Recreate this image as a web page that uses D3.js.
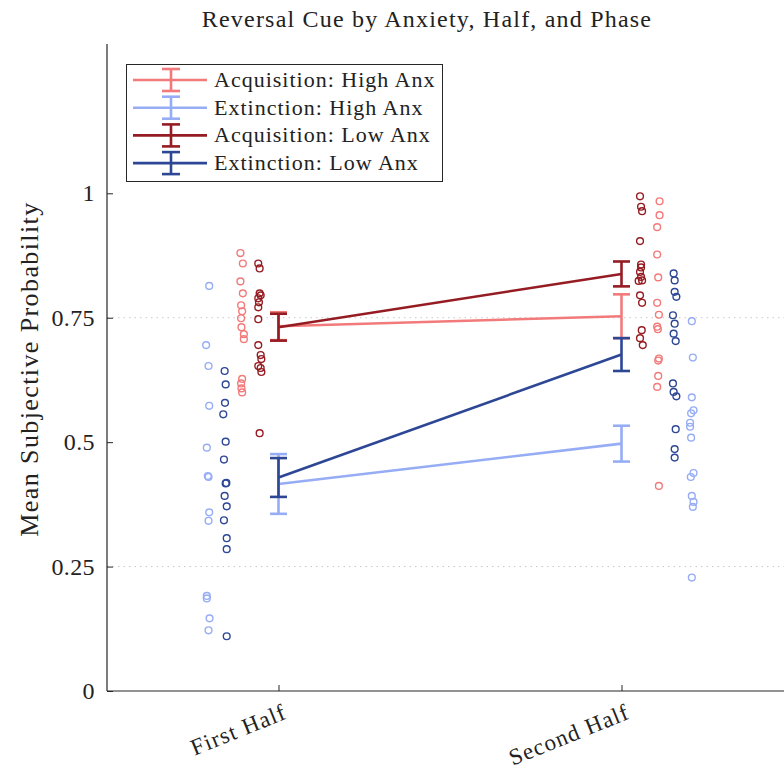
<!DOCTYPE html>
<html>
<head>
<meta charset="utf-8">
<script src="https://cdn.jsdelivr.net/npm/d3@7"></script>
<style>
  html, body { margin: 0; padding: 0; background: #fff; }
  svg { display: block; }
  text { font-family: "Liberation Serif", "Times New Roman", serif; fill: #222; }
</style>
</head>
<body>
<svg id="chart" width="784" height="771"></svg>
<script>
// ---------------- DATA ----------------
const halves = ["First Half", "Second Half"];
const yTicks = [0, 0.25, 0.5, 0.75, 1];
const yTickLabels = ["0", "0.25", "0.5", "0.75", "1"];
const seriesNames = ["Acquisition: High Anx", "Extinction: High Anx", "Acquisition: Low Anx", "Extinction: Low Anx"];

// group means and error (SEM) per half
const acqHighMean = [0.733, 0.753];
const acqHighErr  = [0.028, 0.044];
const extHighMean = [0.416, 0.497];
const extHighErr  = [0.060, 0.036];
const acqLowMean  = [0.731, 0.838];
const acqLowErr   = [0.027, 0.025];
const extLowMean  = [0.429, 0.676];
const extLowErr   = [0.039, 0.033];

// individual subject values (first half / second half)
const acqHighPts1 = [0.880, 0.859, 0.823, 0.799, 0.775, 0.763, 0.749, 0.731, 0.717, 0.707, 0.627, 0.618, 0.608, 0.600];
const acqHighJit1 = [-0.004, 0.003, -0.004, 0.003, -0.002, 0.001, -0.002, -0.001, 0.006, 0.006, 0.001, -0.002, -0.001, 0.001];
const acqHighPts2 = [0.984, 0.956, 0.932, 0.877, 0.831, 0.780, 0.756, 0.732, 0.727, 0.668, 0.664, 0.633, 0.611, 0.412];
const acqHighJit2 = [0.004, 0.004, -0.003, -0.003, 0, -0.003, 0.002, -0.003, -0.001, 0.002, 0, 0, -0.003, 0.002];

const acqLowPts1 = [0.859, 0.849, 0.799, 0.795, 0.789, 0.781, 0.771, 0.747, 0.695, 0.675, 0.667, 0.653, 0.649, 0.641, 0.518];
const acqLowJit1 = [-0.003, 0.001, 0.001, 0.004, -0.003, -0.001, -0.003, -0.003, -0.003, 0.004, 0.006, -0.003, 0.004, 0.006, 0.001];
const acqLowPts2 = [0.994, 0.973, 0.964, 0.904, 0.857, 0.851, 0.842, 0.832, 0.824, 0.825, 0.795, 0.780, 0.725, 0.709, 0.695];
const acqLowJit2 = [-0.002, 0.001, 0.004, -0.002, 0.001, 0.001, -0.002, 0.001, -0.006, 0.004, -0.002, 0.004, 0.003, -0.002, 0.006];

const extHighPts1 = [0.814, 0.695, 0.653, 0.573, 0.489, 0.432, 0.430, 0.359, 0.342, 0.191, 0.186, 0.146, 0.122];
const extHighJit1 = [0.003, -0.006, 0.001, 0.003, -0.004, -0.001, 0.001, 0.003, 0.001, -0.004, -0.004, 0.004, 0.001];
const extHighPts2 = [0.743, 0.670, 0.590, 0.564, 0.558, 0.539, 0.531, 0.509, 0.438, 0.430, 0.392, 0.380, 0.370, 0.228];
const extHighJit2 = [0, 0.003, 0, 0.005, -0.002, -0.005, -0.005, -0.002, 0.005, -0.003, 0, 0.005, 0.003, 0];

const extLowPts1 = [0.643, 0.616, 0.579, 0.556, 0.501, 0.465, 0.418, 0.417, 0.392, 0.371, 0.343, 0.307, 0.285, 0.110];
const extLowJit1 = [-0.002, 0.001, -0.001, -0.006, 0.001, -0.004, 0.003, 0.001, -0.002, 0.004, -0.004, 0.004, 0.004, 0.004];
const extLowPts2 = [0.839, 0.825, 0.802, 0.792, 0.755, 0.738, 0.718, 0.703, 0.618, 0.601, 0.592, 0.526, 0.486, 0.469];
const extLowJit2 = [-0.003, 0, 0, 0.005, -0.005, 0, -0.003, 0.003, -0.005, -0.003, 0.005, 0.003, 0, 0];

// ---------------- STYLE / LAYOUT ----------------
const colors = {
  acqHigh: "#f27a7a",
  extHigh: "#96adf5",
  acqLow:  "#951c22",
  extLow:  "#2d4795"
};
// horizontal column offset of each group's dots (mirrored between halves)
const colOffset = { acqLow: 0.056, acqHigh: 0.107, extLow: 0.155, extHigh: 0.205 };

const series = [
  { key: "acqHigh", name: seriesNames[0], mean: acqHighMean, err: acqHighErr, pts: [acqHighPts1, acqHighPts2], jit: [acqHighJit1, acqHighJit2] },
  { key: "extHigh", name: seriesNames[1], mean: extHighMean, err: extHighErr, pts: [extHighPts1, extHighPts2], jit: [extHighJit1, extHighJit2] },
  { key: "acqLow",  name: seriesNames[2], mean: acqLowMean,  err: acqLowErr,  pts: [acqLowPts1, acqLowPts2],   jit: [acqLowJit1, acqLowJit2] },
  { key: "extLow",  name: seriesNames[3], mean: extLowMean,  err: extLowErr,  pts: [extLowPts1, extLowPts2],   jit: [extLowJit1, extLowJit2] }
];

const svg = d3.select("#chart");
const mLeft = 107, mBottom = 691, mTop = 44, mRight = 793;
const x = d3.scaleLinear().domain([0.5, 2.5]).range([mLeft, mRight]);
const y = d3.scaleLinear().domain([0, 1.3]).range([mBottom, mTop]);

// reference dotted lines
svg.append("g").selectAll("line").data([0.25, 0.75]).join("line")
  .attr("x1", mLeft).attr("x2", 784)
  .attr("y1", d => y(d)).attr("y2", d => y(d))
  .attr("stroke", "#c8c8c8").attr("stroke-width", 1)
  .attr("stroke-dasharray", "1.5,4");

// scatter points
const dots = svg.append("g");
series.forEach(s => {
  [0, 1].forEach(h => {
    const sign = h === 0 ? -1 : 1;
    const cx = h + 1 + sign * colOffset[s.key];
    dots.append("g").selectAll("circle").data(s.pts[h].map((v, i) => ({ v, j: s.jit[h][i] }))).join("circle")
      .attr("cx", d => x(cx + d.j))
      .attr("cy", d => y(d.v))
      .attr("r", 3.4)
      .attr("fill", "none")
      .attr("stroke", colors[s.key])
      .attr("stroke-width", 1.4);
  });
});

// mean lines + error bars
const line = d3.line().x((d, i) => x(i + 1)).y(d => y(d));
const capW = 8.5;
series.forEach(s => {
  const g = svg.append("g");
  g.append("path").datum(s.mean).attr("d", line)
    .attr("fill", "none").attr("stroke", colors[s.key]).attr("stroke-width", 2.6);
  s.mean.forEach((m, i) => {
    const cx = x(i + 1);
    const lo = y(m - s.err[i]), hi = y(m + s.err[i]);
    g.append("line").attr("x1", cx).attr("x2", cx).attr("y1", lo).attr("y2", hi)
      .attr("stroke", colors[s.key]).attr("stroke-width", 2.6);
    [lo, hi].forEach(yy => g.append("line")
      .attr("x1", cx - capW).attr("x2", cx + capW).attr("y1", yy).attr("y2", yy)
      .attr("stroke", colors[s.key]).attr("stroke-width", 2.6));
  });
});

// axes
const axisColor = "#262626";
const yAxis = d3.axisLeft(y).tickValues(yTicks).tickFormat((d, i) => yTickLabels[i]).tickSizeInner(-6).tickSizeOuter(0).tickPadding(12);
const gy = svg.append("g").attr("transform", `translate(${mLeft},0)`).call(yAxis);
gy.select(".domain").remove();
gy.selectAll(".tick line").attr("stroke", axisColor).attr("stroke-width", 1);
gy.selectAll(".tick text").attr("font-family", "Liberation Serif, serif").attr("font-size", 24)
  .attr("letter-spacing", 0.4).attr("fill", "#222");
svg.append("line").attr("x1", mLeft).attr("x2", mLeft).attr("y1", mTop).attr("y2", mBottom)
  .attr("stroke", axisColor).attr("stroke-width", 1.2);

const xAxis = d3.axisBottom(x).tickValues([1, 2]).tickFormat((d, i) => halves[i]).tickSizeInner(-6).tickSizeOuter(0);
const gx = svg.append("g").attr("transform", `translate(0,${mBottom})`).call(xAxis);
gx.select(".domain").remove();
gx.selectAll(".tick line").attr("stroke", axisColor).attr("stroke-width", 1);
gx.selectAll(".tick text")
  .attr("font-family", "Liberation Serif, serif").attr("font-size", 23).attr("letter-spacing", 1.2).attr("fill", "#222")
  .attr("text-anchor", "end")
  .attr("dy", null).attr("y", 0)
  .attr("transform", "translate(9,27) rotate(-22)");
svg.append("line").attr("x1", mLeft).attr("x2", 784).attr("y1", mBottom).attr("y2", mBottom)
  .attr("stroke", axisColor).attr("stroke-width", 1.2);

// title
svg.append("text").attr("x", 427).attr("y", 27).attr("text-anchor", "middle")
  .attr("font-size", 24).attr("letter-spacing", 1.2).text("Reversal Cue by Anxiety, Half, and Phase");

// y label
svg.append("text").attr("transform", `translate(38,369) rotate(-90)`).attr("text-anchor", "middle")
  .attr("font-size", 26).attr("letter-spacing", 1.4).text("Mean Subjective Probability");

// legend
const lg = svg.append("g");
lg.append("rect").attr("x", 126.5).attr("y", 64.5).attr("width", 316).attr("height", 117)
  .attr("fill", "#fff").attr("stroke", "#262626").attr("stroke-width", 1);
series.forEach((s, i) => {
  const cy = 80 + i * 27.7;
  const c = colors[s.key];
  lg.append("line").attr("x1", 133).attr("x2", 207).attr("y1", cy).attr("y2", cy).attr("stroke", c).attr("stroke-width", 2.6);
  lg.append("line").attr("x1", 171).attr("x2", 171).attr("y1", cy - 11).attr("y2", cy + 11).attr("stroke", c).attr("stroke-width", 2.6);
  [cy - 11, cy + 11].forEach(yy => lg.append("line").attr("x1", 162).attr("x2", 180).attr("y1", yy).attr("y2", yy).attr("stroke", c).attr("stroke-width", 2.6));
  lg.append("text").attr("x", 214).attr("y", cy + 7).attr("font-size", 22).attr("letter-spacing", 1).text(s.name);
});
</script>
</body>
</html>
